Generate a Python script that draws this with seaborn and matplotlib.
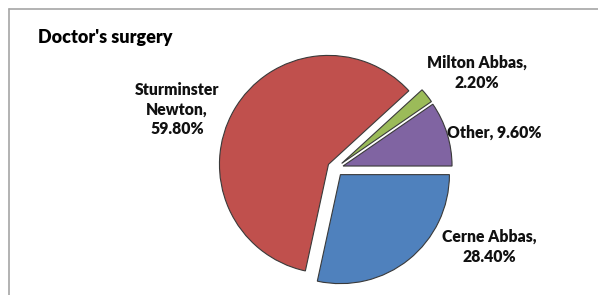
import matplotlib
matplotlib.use("Agg")
import matplotlib.pyplot as plt
import seaborn as sns
from matplotlib.lines import Line2D

# ---- data ----
categories = ["Cerne Abbas", "Sturminster Newton", "Milton Abbas", "Other"]
values = [28.40, 59.80, 2.20, 9.60]
label_texts = ["Cerne Abbas,\n28.40%", "Sturminster\nNewton,\n59.80%",
               "Milton Abbas,\n2.20%", "Other, 9.60%"]
title = "Doctor's surgery"

sns.set_theme(style="white")
plt.rcParams["font.family"] = ["Lato", "DejaVu Sans"]

colors = sns.color_palette(["#4F81BD", "#C0504D", "#9BBB59", "#8064A2"])

W, H = 598, 295
fig = plt.figure(figsize=(W / 100, H / 100), dpi=100)
ax = fig.add_axes([0, 0, 1, 1])
ax.set_xlim(0, W)
ax.set_ylim(0, H)
ax.set_aspect("equal")
ax.axis("off")

cx, cy, r = 335.4, H - 168.4, 109
ax.pie(values, colors=colors, startangle=0, counterclock=False,
       center=(cx, cy), radius=r, explode=[8] * 4,
       wedgeprops=dict(edgecolor="#3a3a3a", linewidth=0.8))
ax.set_xlim(0, W)
ax.set_ylim(0, H)

# label placements (image pixel coords -> data coords)
label_pos = [(489, 247), (177, 109.5), (477, 73), (494, 133)]
for txt, (x, y) in zip(label_texts, label_pos):
    ax.text(x, H - y, txt, ha="center", va="center", multialignment="center",
            fontsize=11.3, fontweight="heavy", color="#111111", linespacing=1.3)

ax.text(38, H - 37, title, ha="left", va="center", fontsize=13,
        fontweight="heavy", color="#000000")

# chart-area frame (left and top edges visible)
fig.add_artist(Line2D([8.5 / W, 8.5 / W], [0, 1 - 9 / H], color="#a6a6a6",
                      lw=1.2, transform=fig.transFigure))
fig.add_artist(Line2D([8.5 / W, 1], [1 - 9 / H, 1 - 9 / H], color="#a6a6a6",
                      lw=1.2, transform=fig.transFigure))

fig.savefig("out.png", dpi=100)
